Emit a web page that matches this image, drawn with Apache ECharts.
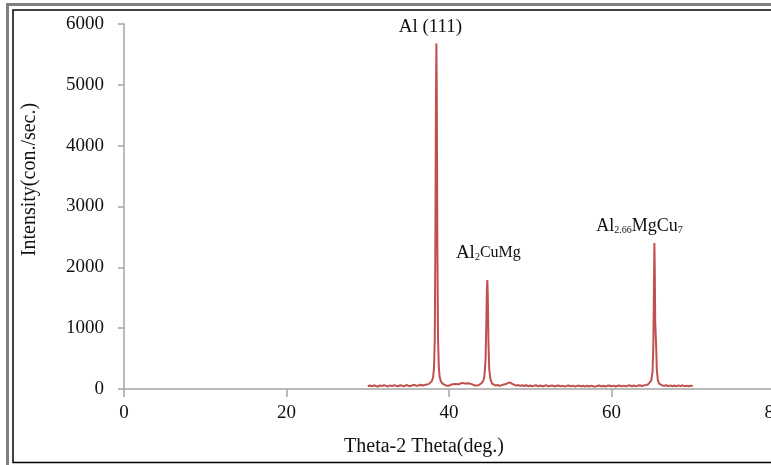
<!DOCTYPE html>
<html>
<head>
<meta charset="utf-8">
<script src="https://cdn.jsdelivr.net/npm/echarts@6/dist/echarts.min.js"></script>
<style>
  html, body { margin: 0; padding: 0; background: #fff; }
  #xrdChart { width: 771px; height: 465px; }
</style>
</head>
<body>
<div id="xrdChart"></div>
<script>
// 2θ 扫描角度 (deg.)
const scanAngles = [
  30, 30.25, 30.5, 30.75, 31, 31.25, 31.5, 31.75, 32, 32.25,
  32.5, 32.75, 33, 33.25, 33.5, 33.75, 34, 34.25, 34.5, 34.75,
  35, 35.25, 35.5, 35.75, 36, 36.25, 36.5, 36.75, 37, 37.25, 37.5,
  // Al (111)
  37.7, 37.9, 38.05, 38.15, 38.25, 38.33, 38.4, 38.45, 38.5, 38.57, 38.65, 38.75, 38.85, 39, 39.2,
  39.4, 39.6, 39.8, 40, 40.2, 40.4, 40.6, 40.8, 41, 41.2,
  41.4, 41.6, 41.8, 42, 42.2, 42.4, 42.6, 42.8, 43, 43.2,
  43.4, 43.6, 43.8, 44, 44.2,
  // Al2CuMg
  44.35, 44.5, 44.6, 44.67, 44.72, 44.78, 44.85, 44.95, 45.1, 45.3,
  45.5, 45.75, 46, 46.25, 46.5, 46.75, 47, 47.25, 47.5, 47.75, 48, 48.25, 48.5, 48.75, 49,
  49.25, 49.5, 49.75, 50, 50.25, 50.5, 50.75, 51, 51.25, 51.5,
  51.75, 52, 52.25, 52.5, 52.75, 53, 53.25, 53.5, 53.75, 54,
  54.25, 54.5, 54.75, 55, 55.25, 55.5, 55.75, 56, 56.25, 56.5,
  56.75, 57, 57.25, 57.5, 57.75, 58, 58.25, 58.5, 58.75, 59,
  59.25, 59.5, 59.75, 60, 60.25, 60.5, 60.75, 61, 61.25, 61.5,
  61.75, 62, 62.25, 62.5, 62.75, 63, 63.25, 63.5, 63.75, 64,
  64.25, 64.5,
  // Al2.66MgCu7
  64.7, 64.9, 65.05, 65.15, 65.22, 65.28, 65.33, 65.38, 65.44, 65.5, 65.58, 65.7, 65.85,
  66, 66.25, 66.5, 66.75, 67, 67.25, 67.5, 67.75, 68, 68.25, 68.5, 68.75, 69, 69.25, 69.5, 69.75, 70
];
// 强度 (con./sec.)
const scanCounts = [
  45, 58, 42, 61, 50, 40, 59, 47, 63, 51,
  41, 60, 48, 64, 52, 43, 62, 53, 45, 66,
  54, 46, 63, 68, 52, 57, 70, 58, 67, 74, 80,
  95, 130, 200, 340, 820, 2600, 4900, 5680, 4700, 2300, 820, 350, 200, 125, 88,
  68, 58, 74, 55, 70, 78, 62, 84, 112, 78,
  72, 100, 130, 92, 70, 94, 115, 80, 62, 56,
  70, 60, 78, 95, 130,
  200, 480, 1150, 1650, 1790, 1500, 800, 330, 160, 90,
  70, 56, 66, 52, 63, 74, 82, 96, 108, 86, 72, 56, 66, 52, 62,
  50, 62, 46, 58, 44, 56, 61, 45, 57, 42,
  55, 60, 43, 54, 59, 41, 53, 58, 44, 56,
  40, 52, 57, 43, 55, 39, 51, 56, 42, 54,
  40, 53, 41, 55, 44, 38, 52, 57, 42, 54,
  40, 53, 58, 43, 55, 41, 54, 59, 44, 56,
  42, 55, 60, 45, 57, 44, 56, 62, 47, 60,
  66, 75,
  90, 140, 280, 720, 1600, 2400, 1900, 1100, 1130, 700, 310, 150, 90,
  70, 58, 52, 61, 48, 59, 46, 57, 45, 60, 47, 61, 46, 56, 44, 55, 50
];
// 衍射峰标注
const peakNames = ['{n|Al (111)}', '{n|Al}{s|2}{m|CuMg}', '{b|Al}{s|2.66}{b|MgCu}{s|7}'];
const peakAngles = [38.45, 44.72, 65.28];
const peakCounts = [5680, 1790, 2400];

const xTicks = [0, 20, 40, 60, 80];
const yTicks = [0, 1000, 2000, 3000, 4000, 5000, 6000];

const serif = '"Liberation Serif", "DejaVu Serif", serif';
const axisGray = '#a5a5a5';

if (scanAngles.length !== scanCounts.length) {
  console.error('length mismatch', scanAngles.length, scanCounts.length);
}

const chart = echarts.init(document.getElementById('xrdChart'), null, { renderer: 'canvas' });

const labelOffsets = [[-6, -16], [1, -27], [-15, -17]];

const option = {
  animation: false,
  backgroundColor: '#fff',
  grid: { left: 124, top: 24, bottom: 76, right: -3, containLabel: false, outerBoundsMode: 'none' },
  xAxis: {
    type: 'value',
    min: xTicks[0],
    max: xTicks[xTicks.length - 1],
    interval: 20,
    name: 'Theta-2 Theta(deg.)',
    nameLocation: 'middle',
    nameGap: 48,
    nameTextStyle: { fontFamily: serif, fontSize: 20, color: '#111', padding: [0, 50, 0, 0] },
    axisLine: { lineStyle: { color: axisGray, width: 1.5 } },
    axisTick: { show: true, inside: false, length: 8, lineStyle: { color: axisGray, width: 1.5 } },
    axisLabel: { fontFamily: serif, fontSize: 19, color: '#111', margin: 15, showMaxLabel: true, showMinLabel: true },
    splitLine: { show: false }
  },
  yAxis: {
    type: 'value',
    min: yTicks[0],
    max: yTicks[yTicks.length - 1],
    interval: 1000,
    name: 'Intensity(con./sec.)',
    nameLocation: 'middle',
    nameGap: 84,
    nameTextStyle: { fontFamily: serif, fontSize: 20, color: '#111', padding: [0, 0, 0, 54] },
    axisLine: { show: true, lineStyle: { color: axisGray, width: 1.5 } },
    axisTick: { show: true, length: 6, lineStyle: { color: axisGray, width: 1.5 } },
    axisLabel: { fontFamily: serif, fontSize: 19, color: '#111', margin: 20, formatter: v => String(v) },
    splitLine: { show: false }
  },
  series: [
    {
      type: 'line',
      data: scanAngles.map((a, i) => [a, scanCounts[i]]),
      showSymbol: false,
      symbol: 'none',
      lineStyle: { color: '#c0504d', width: 2 },
      markPoint: {
        symbol: 'circle',
        symbolSize: 0,
        silent: true,
        data: peakNames.map((t, i) => ({
          coord: [peakAngles[i], peakCounts[i]],
          label: {
            show: true,
            position: 'inside',
            offset: labelOffsets[i],
            formatter: t,
            rich: {
              n: { fontFamily: serif, fontSize: 19, color: '#111' },
              b: { fontFamily: serif, fontSize: 18, color: '#111' },
              m: { fontFamily: serif, fontSize: 16, color: '#111' },
              s: { fontFamily: serif, fontSize: 10, color: '#111', verticalAlign: 'bottom', padding: [6, 0, 0, 0] }
            }
          }
        }))
      }
    }
  ],
  graphic: [
    {
      type: 'rect',
      silent: true,
      shape: { x: 7.5, y: 4.5, width: 900, height: 700 },
      style: { fill: null, stroke: '#7f7f7f', lineWidth: 3 }
    },
    {
      type: 'rect',
      silent: true,
      shape: { x: 13, y: 10, width: 900, height: 452.5 },
      style: { fill: null, stroke: '#000', lineWidth: 1.5 }
    }
  ]
};

chart.setOption(option);
</script>
</body>
</html>
